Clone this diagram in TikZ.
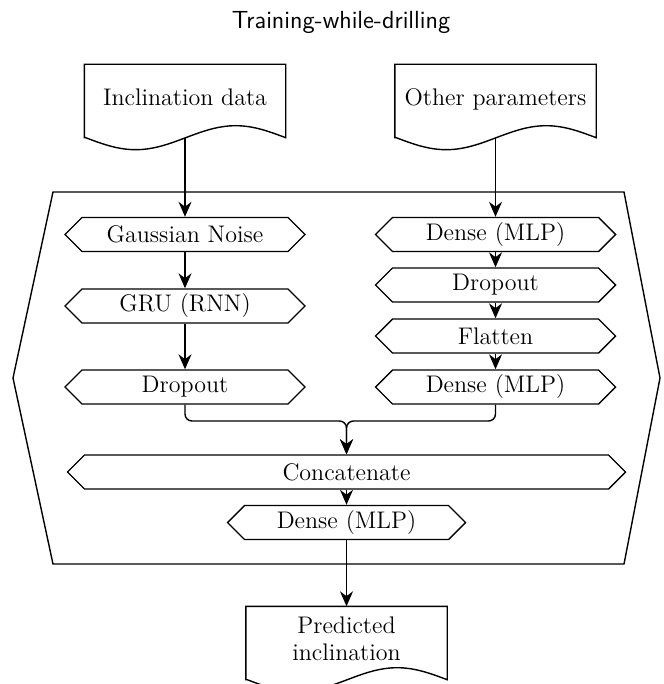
\documentclass[tikz,border=0pt]{standalone}
\usetikzlibrary{shapes.symbols,arrows.meta}
\newcommand{\docoutline}[1]{\draw (#1.south west) -- (#1.north west) -- (#1.north east) -- (#1.south east) sin ++(-50,-12) cos ++(-50,12) sin ++(-50,12) cos ++(-50,-12) -- cycle;}
\begin{document}
\begin{tikzpicture}[x=0.5pt,y=-0.5pt, line width=0.7pt,
  >={Stealth[length=7.5pt,width=6.5pt]},
  hexa/.style={signal, signal to=east and west, signal pointer angle=90, draw,
    minimum width=120pt, minimum height=17pt, inner sep=1pt,
    font=\fontsize{12}{14}\selectfont},
  docu/.style={draw=none, minimum width=100pt, minimum height=36pt, inner sep=0pt,
    text depth=4pt, align=center, font=\fontsize{12}{13.5}\selectfont},
  conn/.style={->, rounded corners=3.5pt}]
\useasboundingbox (0,0) rectangle (663,684);
\node[font=\sffamily\fontsize{12.4}{15}\selectfont] (title) at (341,22) {Training-while-drilling};
% container
\draw (53,192) -- (624,192) -- (660,378) -- (624,564) -- (53,564) -- (13,378) -- cycle;
% inputs
\node[docu] (inL) at (185,101) {Inclination data};
\node[docu] (inR) at (495.5,101) {Other parameters};
\docoutline{inL}
\docoutline{inR}
% left column
\node[hexa] (gn) at (185,234.5) {Gaussian Noise};
\node[hexa] (gru) at (185,306) {GRU (RNN)};
\node[hexa] (dropL) at (185,387) {Dropout};
% right column
\node[hexa] (d1) at (495.5,234.5) {Dense (MLP)};
\node[hexa] (dr) at (495.5,285) {Dropout};
\node[hexa] (fl) at (495.5,336) {Flatten};
\node[hexa] (d2) at (495.5,387) {Dense (MLP)};
% merge
\node[hexa, minimum width=279pt] (concat) at (346.5,472) {Concatenate};
\node[hexa, minimum width=119pt] (dense) at (346.5,522.5) {Dense (MLP)};
\node[docu] (out) at (346.5,643) {Predicted\\inclination};
\docoutline{out}
\coordinate (m) at (346.5,421);
% connectors
\draw[->] (inL.south) -- (gn.north);
\draw[->] (inR.south) -- (d1.north);
\draw[->] (gn.south) -- (gru.north);
\draw[->] (gru.south) -- (dropL.north);
\draw[->] (d1.south) -- (dr.north);
\draw[->] (dr.south) -- (fl.north);
\draw[->] (fl.south) -- (d2.north);
\draw[conn] (dropL.south) |- (m) -- (concat.north);
\draw[conn] (d2.south) |- (m) -- (concat.north);
\draw[->] (concat.south) -- (dense.north);
\draw[->] (dense.south) -- (out.north);
\end{tikzpicture}
\end{document}
